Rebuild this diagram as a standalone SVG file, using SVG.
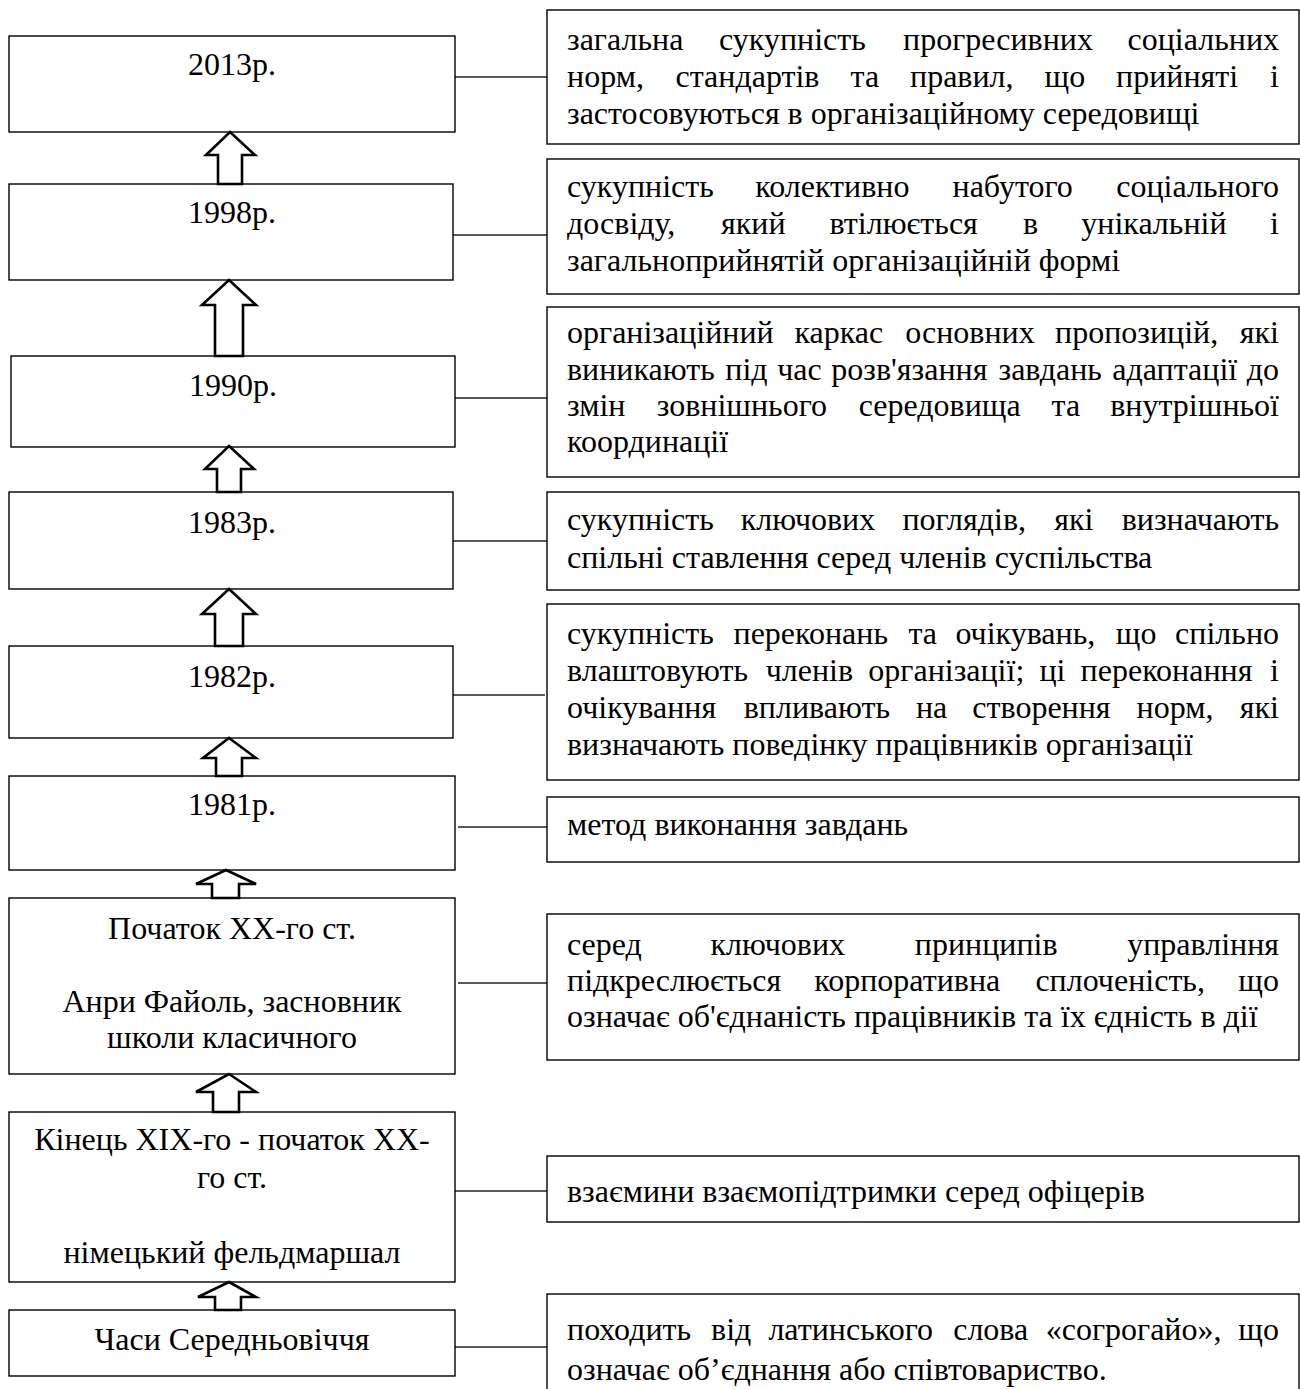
<svg xmlns="http://www.w3.org/2000/svg" width="1300" height="1389" viewBox="0 0 1300 1389">
<style>
.box{fill:#fff;stroke:#000;stroke-width:1.4}
.arr{fill:#fff;stroke:#000;stroke-width:2.6;stroke-linejoin:miter}
.conn{stroke:#222;stroke-width:1.4;fill:none}
.t{font-family:"Liberation Serif","Times New Roman",serif;font-size:32px;fill:#000}
.c{text-anchor:middle}
.e{text-anchor:end}
</style>
<rect width="1300" height="1389" fill="#fff"/>
<g id="connectors">
<line class="conn" x1="455" y1="77" x2="547" y2="77"/>
<line class="conn" x1="453" y1="235" x2="547" y2="235"/>
<line class="conn" x1="455" y1="398" x2="547" y2="398"/>
<line class="conn" x1="453" y1="541" x2="547" y2="541"/>
<line class="conn" x1="453" y1="695" x2="545" y2="695"/>
<line class="conn" x1="458" y1="827" x2="549" y2="827"/>
<line class="conn" x1="458" y1="983" x2="549" y2="983"/>
<line class="conn" x1="455" y1="1191" x2="547" y2="1191"/>
<line class="conn" x1="455" y1="1347" x2="547" y2="1347"/>
</g>
<g id="n2013"><rect class="box" x="9" y="36" width="446" height="96"/><text class="t c" x="232" y="75">2013р.</text></g>
<g id="n1998"><rect class="box" x="9" y="184" width="444" height="96"/><text class="t c" x="232" y="223">1998р.</text></g>
<g id="n1990"><rect class="box" x="11" y="356" width="444" height="91"/><text class="t c" x="233" y="396">1990р.</text></g>
<g id="n1983"><rect class="box" x="9" y="492" width="444" height="97"/><text class="t c" x="232" y="533">1983р.</text></g>
<g id="n1982"><rect class="box" x="9" y="646" width="444" height="92"/><text class="t c" x="232" y="687">1982р.</text></g>
<g id="n1981"><rect class="box" x="9" y="776" width="446" height="94"/><text class="t c" x="232" y="815">1981р.</text></g>
<g id="nFayol"><rect class="box" x="9" y="898" width="446" height="176"/>
<text class="t c" x="232" y="939">Початок XX-го ст.</text>
<text class="t c" x="232" y="1012">Анри Файоль, засновник</text>
<text class="t c" x="232" y="1048">школи класичного</text></g>
<g id="nXIX"><rect class="box" x="9" y="1112" width="446" height="170"/>
<text class="t c" x="232" y="1150">Кінець XIX-го - початок XX-</text>
<text class="t c" x="232" y="1188">го ст.</text>
<text class="t c" x="232" y="1263">німецький фельдмаршал</text></g>
<g id="nMiddle"><rect class="box" x="9" y="1310" width="446" height="66"/><text class="t c" x="232" y="1350">Часи Середньовіччя</text></g>
<g id="arrows">
<polygon class="arr" points="230,132 255,155 242,155 242,184 218,184 218,155 206,155"/>
<polygon class="arr" points="229,280 256,305 243,305 243,356 215,356 215,305 202,305"/>
<polygon class="arr" points="229,446 254,469 241,469 241,492 217,492 217,469 205,469"/>
<polygon class="arr" points="229,589 256,614 243,614 243,646 215,646 215,614 202,614"/>
<polygon class="arr" points="229,738 256,758 242,758 242,776 216,776 216,758 203,758"/>
<polygon class="arr" points="226,870 256,884 239,884 239,898 212,898 212,884 196,884"/>
<polygon class="arr" points="229,1074 256,1092 239,1092 239,1112 213,1112 213,1092 196,1092"/>
<polygon class="arr" points="229,1282 256,1297 241,1297 241,1310 215,1310 215,1297 198,1297"/>
</g>
<g id="d1"><rect class="box" x="547" y="10" width="752" height="134"/>
<text class="t" y="50"><tspan x="567">загальна</tspan><tspan x="719">сукупність</tspan><tspan x="903">прогресивних</tspan></text><text class="t e" x="1279" y="50">соціальних</text>
<text class="t" y="87"><tspan x="567">норм,</tspan><tspan x="675.5">стандартів</tspan><tspan x="850.6">та</tspan><tspan x="910">правил,</tspan><tspan x="1044.5">що</tspan><tspan x="1116">прийняті</tspan></text><text class="t e" x="1279" y="87">і</text>
<text class="t" x="567" y="124">застосовуються в організаційному середовищі</text></g>
<g id="d2"><rect class="box" x="547" y="159" width="752" height="135"/>
<text class="t" y="197"><tspan x="567">сукупність</tspan><tspan x="755.3">колективно</tspan><tspan x="952.5">набутого</tspan></text><text class="t e" x="1279" y="197">соціального</text>
<text class="t" y="234"><tspan x="567">досвіду,</tspan><tspan x="721">який</tspan><tspan x="829.5">втілюється</tspan><tspan x="1023">в</tspan><tspan x="1081.3">унікальній</tspan></text><text class="t e" x="1279" y="234">і</text>
<text class="t" x="567" y="271">загальноприйнятій організаційній формі</text></g>
<g id="d3"><rect class="box" x="547" y="307" width="752" height="170"/>
<text class="t" y="343"><tspan x="567">організаційний</tspan><tspan x="794.4">каркас</tspan><tspan x="905.2">основних</tspan><tspan x="1055">пропозицій,</tspan></text><text class="t e" x="1279" y="343">які</text>
<text class="t" y="380"><tspan x="567">виникають</tspan><tspan x="725.3">під</tspan><tspan x="777.2">час</tspan><tspan x="831.3">розв'язання</tspan><tspan x="998.5">завдань</tspan><tspan x="1112.3">адаптації</tspan></text><text class="t e" x="1279" y="380">до</text>
<text class="t" y="416"><tspan x="567">змін</tspan><tspan x="656.7">зовнішнього</tspan><tspan x="858.7">середовища</tspan><tspan x="1051.5">та</tspan></text><text class="t e" x="1279" y="416">внутрішньої</text>
<text class="t" x="567" y="452">координації</text></g>
<g id="d4"><rect class="box" x="547" y="492" width="752" height="98"/>
<text class="t" y="530"><tspan x="567">сукупність</tspan><tspan x="740.7">ключових</tspan><tspan x="902.4">поглядів,</tspan><tspan x="1054.3">які</tspan></text><text class="t e" x="1279" y="530">визначають</text>
<text class="t" x="567" y="568">спільні ставлення серед членів суспільства</text></g>
<g id="d5"><rect class="box" x="547" y="604" width="752" height="176"/>
<text class="t" y="644"><tspan x="567">сукупність</tspan><tspan x="733.5">переконань</tspan><tspan x="908.4">та</tspan><tspan x="955.4">очікувань,</tspan><tspan x="1115.8">що</tspan></text><text class="t e" x="1279" y="644">спільно</text>
<text class="t" y="681"><tspan x="567">влаштовують</tspan><tspan x="765.7">членів</tspan><tspan x="868.3">організації;</tspan><tspan x="1039.4">ці</tspan><tspan x="1080.6">переконання</tspan></text><text class="t e" x="1279" y="681">і</text>
<text class="t" y="718"><tspan x="567">очікування</tspan><tspan x="743.7">впливають</tspan><tspan x="915.9">на</tspan><tspan x="972.3">створення</tspan><tspan x="1136.6">норм,</tspan></text><text class="t e" x="1279" y="718">які</text>
<text class="t" x="567" y="755">визначають поведінку працівників організації</text></g>
<g id="d6"><rect class="box" x="547" y="797" width="752" height="65"/>
<text class="t" x="567" y="835">метод виконання завдань</text></g>
<g id="d7"><rect class="box" x="547" y="914" width="752" height="146"/>
<text class="t" y="955"><tspan x="567">серед</tspan><tspan x="710.5">ключових</tspan><tspan x="914.8">принципів</tspan></text><text class="t e" x="1279" y="955">управління</text>
<text class="t" y="991"><tspan x="567">підкреслюється</tspan><tspan x="814.3">корпоративна</tspan><tspan x="1035.4">сплоченість,</tspan></text><text class="t e" x="1279" y="991">що</text>
<text class="t" x="567" y="1027">означає об'єднаність працівників та їх єдність в дії</text></g>
<g id="d8"><rect class="box" x="547" y="1156" width="752" height="66"/>
<text class="t" x="567" y="1202">взаємини взаємопідтримки серед офіцерів</text></g>
<g id="d9"><rect class="box" x="547" y="1294" width="752" height="110"/>
<text class="t" y="1340"><tspan x="567">походить</tspan><tspan x="711.1">від</tspan><tspan x="768.4">латинського</tspan><tspan x="953.2">слова</tspan><tspan x="1045.7">«согрогайо»,</tspan></text><text class="t e" x="1279" y="1340">що</text>
<text class="t" x="567" y="1380">означає об’єднання або співтовариство.</text></g>
</svg>
